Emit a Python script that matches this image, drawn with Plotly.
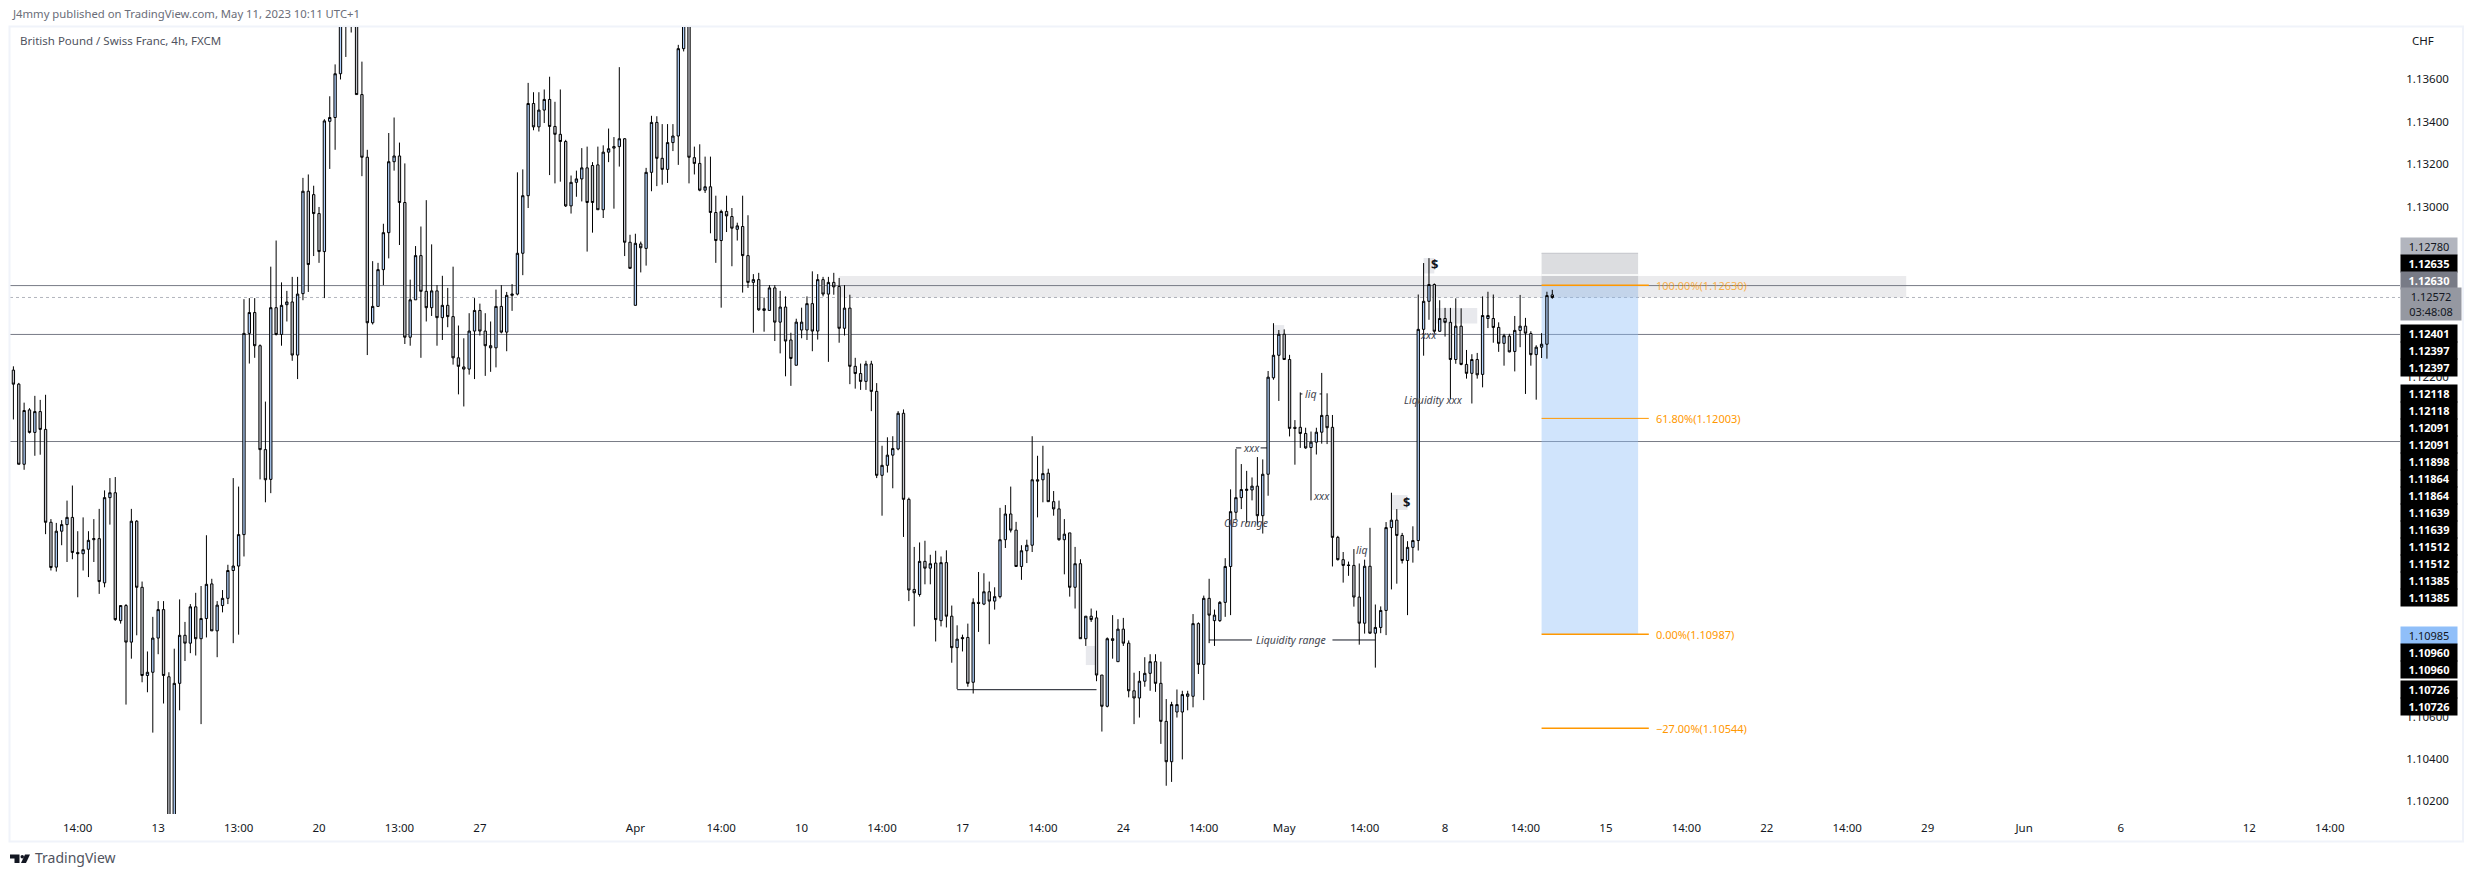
import plotly.graph_objects as go

# OHLC prices in units of 0.00001 CHF, one entry per 4h bar
opens = [
112230,112164,111787,112043,111937,112035,111951,111514,111303,111472,
111503,111537,111372,111366,111387,111432,111437,111229,111630,111653,
111051,111122,110950,111519,111208,110793,110808,110969,111103,110787,
110100,110756,110982,110945,111116,110966,111061,111224,111003,111122,
111156,111287,111308,111456,112403,112501,112345,111856,111716,112524,
112398,112538,112551,112301,112590,113072,113056,112967,112788,113401,
113419,113625,113900,114050,114000,113527,113232,112453,112530,112703,
112877,113211,113238,113019,112385,112561,112769,112601,112524,112603,
112477,112535,112482,112288,112245,112235,112414,112511,112414,112345,
112335,112530,112409,112582,112588,112780,113051,113485,113375,113454,
113504,113377,113340,113306,113003,113114,113130,113182,113193,113196,
112985,113256,113275,113282,113319,112832,112535,112824,112803,113161,
113396,113227,113175,113301,113332,113743,113900,113230,113203,113077,
113093,112972,112840,112977,112953,112893,112906,112769,112643,112656,
112511,112511,112617,112456,112527,112372,112253,112419,112419,112543,
112414,112656,112588,112643,112624,112427,112522,112248,112214,112177,
112259,112130,111735,111782,111830,111859,112027,111622,111198,111174,
111330,111298,111322,111051,111324,111072,110924,110972,110972,110761,
111137,111129,111187,111143,111164,111432,111553,111477,111306,111380,
111406,111714,111714,111745,111611,111577,111432,111464,111208,111319,
110966,111072,111064,110795,110648,110966,110858,111011,110945,110721,
110687,110766,110803,110858,110756,110577,110387,110621,110621,110695,
110695,111037,110845,111156,111051,111051,111137,111306,111561,111630,
111664,111666,111684,111545,111740,112194,112300,112399,112280,111961,
111961,111932,111866,111891,111938,112017,111961,111443,111338,111313,
111311,111162,111039,111307,110992,111019,111099,111489,111524,111452,
111334,111396,111428,112422,112554,112633,112413,112473,112455,112280,
112437,112257,112215,112280,112210,112473,112473,112431,112356,112390,
112318,112417,112437,112402,112303,112338,112352,112584]
highs = [
112248,112170,112077,112051,112109,112090,112114,111529,111511,111524,
111616,111687,111472,111537,111472,111529,111577,111664,111722,111727,
111124,111129,111577,111524,111235,110906,111069,111143,111143,110808,
110919,111151,111045,111129,111182,111214,111453,111248,111143,111195,
111314,111722,111682,112564,112569,112569,112351,112082,112717,112840,
112643,112603,112669,112669,113135,113151,113098,112998,113411,113519,
113669,114000,114100,114100,114050,113682,113267,112743,112735,112919,
113346,113419,113301,113203,112656,112814,112906,113030,112822,112630,
112674,112617,112717,112440,112380,112498,112569,112543,112498,112459,
112609,112630,112598,112635,113161,113175,113582,113538,113538,113551,
113611,113493,113551,113314,113146,113169,113275,113282,113209,113282,
113288,113367,113327,113656,113322,112867,112872,112835,113182,113427,
113425,113388,113388,113388,113761,114000,113950,113282,113293,113235,
113235,113051,112985,113051,112993,112924,113051,112959,112682,112688,
112572,112630,112630,112603,112577,112406,112472,112524,112577,112695,
112682,112669,112669,112688,112664,112630,112585,112288,112261,112274,
112274,112169,111874,111914,111919,112037,112045,111630,111398,111419,
111427,111361,111380,111353,111382,111122,111029,110985,111037,111156,
111280,111274,111235,111208,111582,111595,111682,111516,111406,111432,
111919,111827,111874,111766,111661,111616,111529,111464,111398,111340,
111072,111108,111098,110795,110972,111077,111058,111064,110958,110806,
110814,110879,110893,110893,110858,110682,110669,110727,110721,110721,
111082,111043,111169,111248,111103,111143,111345,111669,111859,111788,
111756,111725,111821,111810,112226,112451,112419,112422,112302,111995,
112125,111959,111941,111959,112217,112121,112019,111450,111374,111329,
111388,111320,111338,111488,111127,111118,111515,111653,111576,111464,
111425,111495,112586,112734,112757,112638,112559,112523,112523,112568,
112521,112325,112305,112311,112577,112599,112586,112455,112401,112401,
112485,112584,112476,112413,112347,112404,112599,112608]
lows = [
111998,111787,111761,111932,111827,111832,111458,111287,111282,111406,
111327,111340,111161,111287,111256,111327,111177,111208,111503,111050,
111037,110656,110872,110982,110761,110714,110524,110893,110661,110060,
110060,110629,110861,110898,110887,110564,110972,111003,110879,111090,
111129,110945,110985,111353,112261,112288,111716,111608,111651,112393,
112345,112459,112274,112188,112559,112598,112767,112735,112569,113177,
113267,113598,113704,113819,113527,113143,112301,112445,112530,112630,
112756,113169,112819,112353,112345,112561,112288,112459,112485,112345,
112372,112432,112256,112116,112059,112209,112188,112393,112203,112222,
112243,112403,112319,112509,112582,112677,112993,113359,113353,113393,
113148,113109,113117,112998,112967,113046,113024,112788,112877,112985,
112946,113209,112990,113188,112767,112709,112535,112690,112722,113072,
113096,113103,113111,113261,113196,113730,113109,113151,113072,113064,
112874,112735,112524,112880,112719,112840,112595,112617,112406,112509,
112411,112511,112367,112309,112201,112156,112253,112380,112372,112319,
112374,112577,112269,112585,112359,112393,112164,112143,112137,112137,
112037,111722,111545,111748,111674,111853,111445,111143,111024,111164,
111222,111222,110953,111024,111019,110853,110729,110906,110740,110708,
110998,111124,110940,111103,111156,111393,111466,111306,111243,111322,
111374,111537,111608,111611,111545,111427,111269,111164,111108,110966,
110932,111045,110766,110529,110643,110872,110858,110932,110690,110564,
110595,110740,110721,110716,110471,110274,110292,110595,110398,110629,
110643,110800,110677,110945,110932,111045,111069,111077,111524,111576,
111509,111617,111500,111461,111639,112185,112085,112280,111918,111785,
111864,111860,111617,111833,111884,111882,111306,111334,111230,111262,
111117,110938,110990,110990,110830,110992,110983,111198,111225,111320,
111077,111324,111381,112298,112467,112401,112410,112388,112094,112260,
112253,112190,112073,112190,112149,112428,112359,112316,112251,112314,
112224,112338,112118,112251,112091,112287,112284,112566]
closes = [
112164,111787,112040,111937,112035,111951,111514,111301,111472,111503,
111537,111372,111366,111385,111429,111437,111235,111630,111653,111056,
111122,110950,111519,111208,110793,110808,110969,111103,110793,110100,
110756,110982,110945,111116,110966,111061,111222,111003,111124,111156,
111287,111308,111456,112403,112501,112345,111856,111714,112524,112398,
112535,112551,112301,112588,113072,112727,112967,112788,113403,113419,
113625,113900,114050,114000,113527,113232,112453,112530,112703,112877,
113211,113238,113019,112385,112561,112769,112601,112524,112603,112477,
112535,112482,112288,112248,112235,112414,112511,112414,112345,112335,
112530,112409,112582,112588,112780,113051,113485,113375,113454,113504,
113377,113340,113306,113003,113114,113130,113182,113019,113019,112985,
113256,113272,113282,113319,112832,112709,112827,112806,113161,113396,
113227,113175,113301,113332,113743,113900,113232,113203,113077,113093,
112972,112840,112977,112956,112898,112909,112769,112643,112656,112514,
112519,112617,112456,112527,112367,112285,112456,112456,112543,112414,
112656,112588,112643,112622,112427,112522,112248,112214,112177,112259,
112130,111735,111782,111830,111861,112027,111622,111195,111182,111330,
111298,111319,111056,111324,111072,110924,110964,110966,110756,111137,
111132,111187,111143,111164,111432,111553,111477,111306,111380,111406,
111714,111708,111743,111611,111577,111432,111458,111208,111319,110966,
111072,111056,110795,110648,110966,110958,111011,110945,110721,110687,
110766,110803,110858,110756,110577,110387,110656,110656,110703,110706,
111037,110845,111156,111077,111077,111137,111306,111564,111630,111668,
111669,111684,111545,111740,112197,112300,112399,112280,111956,111956,
111932,111864,111891,111938,112017,111959,111443,111338,111311,111311,
111162,111039,111307,110992,111019,111099,111489,111524,111452,111334,
111396,111428,112422,112554,112633,112413,112473,112455,112280,112437,
112257,112215,112280,112208,112487,112487,112431,112356,112392,112316,
112417,112437,112404,112303,112338,112352,112581,112572]

# time axis labels (bar number, text)
tick_bars = [12,27,42,57,72,87,116,132,147,162,177,192,207,222,237,252,267,282,297,312,327,342,357,375,393,417,432]
tick_text = ["14:00","13","13:00","20","13:00","27","Apr","14:00","10","14:00","17","14:00","24","14:00","May","14:00","8","14:00","15","14:00","22","14:00","29","Jun","6","12","14:00"]
price_ticks = [1.136,1.134,1.132,1.130,1.122,1.106,1.104,1.102]

# fib levels
fib_levels = [1.12630,1.12003,1.10987,1.10544]
fib_text = ["100.00%(1.12630)","61.80%(1.12003)","0.00%(1.10987)","\u221227.00%(1.10544)"]
# horizontal rays
ray_prices = [1.12628,1.12398,1.11894]
last_price = 1.12572

# stacked price-scale tags: anchor price, then (text, background, font colour)
BLK=("#000000","#ffffff")
tag_groups = [
 (1.12572,[("1.12780","#b2b5be","#131722",51),("1.12635","#000000","#ffffff",34),("1.12630","#787b86","#ffffff",17)]),
 (1.12401,[("1.12401",*BLK,0),("1.12397",*BLK,-17),("1.12397",*BLK,-34)]),
 (1.12118,[(t,*BLK,-17*i) for i,t in enumerate(["1.12118","1.12118","1.12091","1.12091","1.11898","1.11864","1.11864","1.11639","1.11639","1.11512","1.11512","1.11385","1.11385"])]),
 (1.10985,[("1.10985","#90bff9","#131722",-1),("1.10960",*BLK,-18),("1.10960",*BLK,-35)]),
 (1.10726,[("1.10726",*BLK,0),("1.10726",*BLK,-17)]),
]

W,H=2474,877
L,R,T,B=10,74,27,63
PW,PH=W-L-R,H-T-B
px=lambda v:(v-L)/PW
py=lambda v:1-(v-T)/PH

fig=go.Figure(go.Candlestick(
    x=list(range(len(opens))),
    open=[v/1e5 for v in opens],high=[v/1e5 for v in highs],low=[v/1e5 for v in lows],close=[v/1e5 for v in closes],
    increasing=dict(line=dict(color="#000000",width=1),fillcolor="#b0d0fb"),
    decreasing=dict(line=dict(color="#000000",width=1),fillcolor="#c4c6cd"),
    whiskerwidth=0,showlegend=False,hoverinfo="skip"))

shapes=[]
def rect(x0,x1,y0,y1,color,layer="below",line=None):
    shapes.append(dict(type="rect",xref="x",yref="y",x0=x0,x1=x1,y0=y0,y1=y1,fillcolor=color,layer=layer,line=line or dict(width=0)))
def seg(x0,x1,y,color,w=1,layer="below",dash="solid"):
    shapes.append(dict(type="line",xref="x",yref="y",x0=x0,x1=x1,y0=y,y1=y,layer=layer,line=dict(color=color,width=w,dash=dash)))

ZONE_C="rgba(120,123,134,0.15)"
rect(285,303,1.12780,1.12630,"rgba(120,123,134,0.26)")
seg(285,303,1.12780,"#c4c5ca")
rect(285,303,1.12630,1.10987,"rgba(144,191,249,0.42)")
rect(154,353,1.12673,1.12572,ZONE_C)
seg(285,303,1.12678,"#ffffff",1.5)
for a,b,c,d in [(263,265,1.12758,1.12685),(257,260,1.11642,1.11572),(265,273,1.12522,1.12449),(235,237,1.12442,1.12400),(200,202,1.10932,1.10842)]:
    rect(a,b,c,d,"#e8e9ed")
for p in ray_prices:
    shapes.append(dict(type="line",xref="paper",yref="y",x0=0,x1=1,y0=p,y1=p,layer="below",line=dict(color="#787b86",width=1)))
shapes.append(dict(type="line",xref="paper",yref="y",x0=0,x1=1,y0=last_price,y1=last_price,layer="below",line=dict(color="#b2b5be",width=1,dash="dot")))
# liquidity lines
seg(176,202,1.10726,"#131722")
seg(223,231,1.10960,"#131722"); seg(246,254,1.10960,"#131722")
seg(228,229,1.11864,"#131722"); seg(232.6,233.8,1.11864,"#131722")
seg(240,240.4,1.12118,"#131722"); seg(243.6,244,1.12118,"#131722")
for p in fib_levels:
    seg(285,305,p,"#ff9800",1.5 if p!=1.12003 else 1,layer="above")

# frame and logo
frame="#f0f3fa"
shapes.append(dict(type="rect",xref="paper",yref="paper",x0=px(9.5),x1=px(2463),y0=py(26.5),y1=py(841.5),layer="below",line=dict(color=frame,width=2)))
def poly(points,color="#131722"):
    d="M"+" L".join(f"{px(a):.6f},{py(b):.6f}" for a,b in points)+" Z"
    shapes.append(dict(type="path",xref="paper",yref="paper",path=d,fillcolor=color,line=dict(width=0),layer="above"))
poly([(10,854.5),(19.5,854.5),(19.5,863),(14.5,863),(14.5,858.5),(10,858.5)])
poly([(25,854.5),(30,854.5),(26,863),(21,863)])
shapes.append(dict(type="circle",xref="paper",yref="paper",x0=px(20.5),x1=px(24),y0=py(858.5),y1=py(855),fillcolor="#131722",line=dict(width=0),layer="above"))

ann=[]
def text_p(x,y,t,size,color,anchor="left",**kw):
    ann.append(dict(xref="paper",yref="paper",x=px(x),y=py(y),text=t,showarrow=False,xanchor=anchor,yanchor="middle",
                    font=dict(size=size,color=color,family="Noto Sans"),**kw))
text_p(10,14,"J4mmy published on TradingView.com, May 11, 2023 10:11 UTC+1",11.3,"#6a6d78")
text_p(18,41,"British Pound / Swiss Franc, 4h, FXCM",11.5,"#50535e")
text_p(33,858,"TradingView",14,"#50535e")
text_p(2410,41,"CHF",11.5,"#131722")

def note(x,y,t,size=10.5,color="#434651",**kw):
    ann.append(dict(xref="x",yref="y",x=x,y=y,text=t,showarrow=False,xanchor="center",yanchor="middle",
                    font=dict(size=size,color=color,family="Noto Sans",**kw)))
note(238.2,1.10960,"Liquidity range",style="italic")
note(230.9,1.11864,"xxx",style="italic")
note(242,1.12118,"liq",style="italic")
note(244,1.11639,"xxx",style="italic")
note(251.5,1.11385,"liq",style="italic")
note(229.9,1.11512,"OB range",style="italic")
note(264.9,1.12091,"Liquidity xxx",style="italic")
note(264,1.12397,"xxx",style="italic")
note(265,1.12729,"<b>$</b>",13,"#131722")
note(259.9,1.11611,"<b>$</b>",13,"#131722")
for p,t in zip(fib_levels,fib_text):
    ann.append(dict(xref="x",yref="y",x=306,y=p,text=t,showarrow=False,xanchor="left",yanchor="middle",
                    opacity=0.7 if p==1.12630 else 1,font=dict(size=11,color="#ff9800",family="Noto Sans")))

def tag(price,t,bg,fg,shift,w=56,h=17,bold=True):
    ann.append(dict(xref="paper",yref="y",x=px(2400),y=price,yshift=shift,text=f"<b>{t}</b>" if bold else t,showarrow=False,
                    xanchor="left",yanchor="middle",width=w,height=h,bgcolor=bg,borderpad=0,align="center",valign="middle",
                    font=dict(size=11,color=fg,family="Noto Sans")))
for anchor,items in tag_groups:
    for t,bg,fg,shift in items:
        tag(anchor,t,bg,fg,shift,bold=(fg=="#ffffff"))
tag(last_price,"1.12572<br>03:48:08","#9598a1","#131722",-7,w=60,h=32,bold=False)

fig.update_layout(
    width=W,height=H,autosize=False,margin=dict(l=L,r=R,t=T,b=B,pad=0),
    paper_bgcolor="#ffffff",plot_bgcolor="#ffffff",showlegend=False,shapes=shapes,annotations=ann,dragmode=False,
    boxgap=0.38,
    font=dict(family="Noto Sans",color="#131722",size=11.5),
    xaxis=dict(range=[(L-13.4)/5.362,(W-R-13.4)/5.362],tickmode="array",tickvals=tick_bars,ticktext=tick_text,
               showgrid=False,zeroline=False,showline=False,ticks="outside",ticklen=3,tickcolor="#ffffff",
               rangeslider=dict(visible=False),tickfont=dict(size=11.5,color="#131722")),
    yaxis=dict(range=[1.10141,1.13845],side="right",tickmode="array",tickvals=price_ticks,
               ticktext=[f"{v:.5f}" for v in price_ticks],showgrid=False,zeroline=False,showline=False,
               ticks="outside",ticklen=3,tickcolor="#ffffff",tickfont=dict(size=11.5,color="#131722")),
)
fig.write_html("out.html",config=dict(displayModeBar=False,staticPlot=True),
               post_script="document.body.style.margin='0';document.body.style.overflow='hidden';")
